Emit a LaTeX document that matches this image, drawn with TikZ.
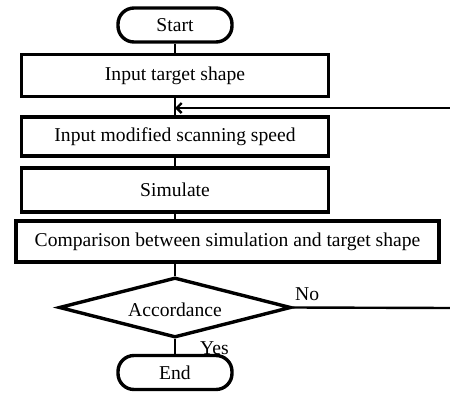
\documentclass[tikz,border=0pt]{standalone}
\usepackage{fontspec}
\setmainfont{Liberation Serif}
\usetikzlibrary{shapes.geometric,arrows.meta}
\begin{document}
\begin{tikzpicture}[x=1pt,y=-1pt,
  every node/.style={font=\fontsize{19.6}{22}\selectfont},
  box/.style={draw,line width=3.4pt,minimum height=42pt,inner sep=0pt},
  pill/.style={draw,line width=3.4pt,rounded corners=16pt,minimum width=114pt,minimum height=34pt,inner sep=0pt},
  dec/.style={draw,line width=3.4pt,diamond,aspect=3.8,minimum width=232pt,minimum height=60pt,inner sep=0pt},
  conn/.style={line width=2.4pt},
  lbl/.style={inner sep=0pt}]
\useasboundingbox (0,0) rectangle (450,394);
\node[pill] (start) at (175,25) {Start};
\node[box,minimum width=307pt] (in) at (175,75.5) {Input target shape};
\node[box,minimum width=307pt,minimum height=39pt] (mod) at (175,136.5) {Input modified scanning speed};
\node[box,minimum width=307pt,minimum height=44pt] (sim) at (175,190) {Simulate};
\node[box,minimum width=423pt,minimum height=41pt] (cmp) at (227.5,241.5) {Comparison between simulation and target shape};
\node[dec] (acc) at (175,307.5) {};
\node[lbl] at (175,310) {Accordance};
\node[pill] (end) at (175,372.5) {End};
\coordinate (m) at (175,108);
\coordinate (rtop) at (451,108);
\coordinate (rbot) at (451,308);
\draw[conn] (start) -- (in);
\draw[conn] (in) -- (mod);
\draw[conn] (mod) -- (sim);
\draw[conn] (sim.south) -- (sim.south |- cmp.north);
\draw[conn] (acc.north |- cmp.south) -- (acc.north);
\draw[conn] (acc) -- (end);
\draw[conn] (acc.east) -- (rbot);
\draw[conn,-{Straight Barb[length=5pt,width=10pt,line width=2.4pt]}] (rtop) -- (m);
\node[lbl,anchor=south west] at (295,301) {No};
\node[lbl,anchor=south west] at (200,355) {Yes};
\end{tikzpicture}
\end{document}
